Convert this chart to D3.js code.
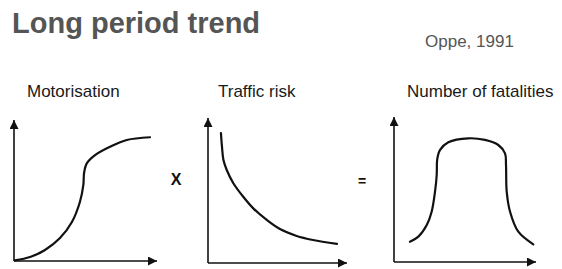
<!DOCTYPE html>
<html>
<head>
<meta charset="utf-8">
<script src="https://cdn.jsdelivr.net/npm/d3@7"></script>
<style>
  body { margin: 0; background: #fff; }
  text { font-family: "Liberation Sans", Arial, sans-serif; }
</style>
</head>
<body>
<div id="chart"></div>
<script>
// Long period trend (Oppe, 1991): motorisation x traffic risk = fatalities
// values are on a 0..10 scale

const panelTitles = ["Motorisation", "Traffic risk", "Number of fatalities"];

const motorisation = [
  [0.07, 0.04], [1.18, 0.29], [2.28, 0.81], [3.38, 1.69], [4.26, 2.87],
  [4.85, 4.36], [5.1, 5.59], [5.15, 6.45], [5.35, 7.18], [5.96, 7.79],
  [7.06, 8.4], [8.29, 8.9], [10, 9.1]
];

const trafficRisk = [
  [0.98, 9.42], [1.06, 8.41], [1.17, 7.46], [1.42, 6.74], [1.92, 5.78],
  [2.67, 4.8], [3.43, 3.96], [4.45, 3.12], [5.45, 2.46], [6.72, 1.96],
  [7.95, 1.67], [9.77, 1.38]
];

const fatalities = [
  [1.14, 1.48], [1.74, 1.85], [2.34, 2.7], [2.69, 3.67], [2.93, 5.13],
  [3.05, 6.35], [3.07, 7.3], [3.12, 7.69], [3.29, 8.18], [3.88, 8.74],
  [5.31, 9.03], [6.5, 8.91], [7.45, 8.54], [7.93, 7.93], [8.0, 7.08],
  [8.05, 5.13], [8.29, 3.67], [8.88, 2.21], [9.95, 1.29]
];

const width = 562, height = 269;

const svg = d3.select("#chart").append("svg")
  .attr("width", width)
  .attr("height", height);

// arrow head for the axes
svg.append("defs").append("marker")
  .attr("id", "arrow")
  .attr("viewBox", "0 0 10 10")
  .attr("refX", 10).attr("refY", 5)
  .attr("markerUnits", "userSpaceOnUse")
  .attr("markerWidth", 10).attr("markerHeight", 9)
  .attr("orient", "auto")
  .append("path")
  .attr("d", "M0,0 L10,5 L0,10 z")
  .attr("fill", "#111");

svg.append("text")
  .attr("x", 12).attr("y", 33)
  .attr("font-size", 29).attr("font-weight", "bold")
  .attr("fill", "#555")
  .text("Long period trend");

svg.append("text")
  .attr("x", 425).attr("y", 47)
  .attr("font-size", 17)
  .attr("fill", "#555")
  .text("Oppe, 1991");

// layout of the three small sketches
const panels = [
  { data: motorisation, x0: 14, x1: 150, y0: 261, y1: 125, xTip: 157, yTip: 120, titleX: 27 },
  { data: trafficRisk, x0: 208, x1: 340, y0: 263, y1: 125, xTip: 347, yTip: 118, titleX: 218 },
  { data: fatalities, x0: 394, x1: 534, y0: 262, y1: 125, xTip: 536, yTip: 117, titleX: 407 }
];

panels.forEach((p, i) => {
  const x = d3.scaleLinear().domain([0, 10]).range([p.x0, p.x1]);
  const y = d3.scaleLinear().domain([0, 10]).range([p.y0, p.y1]);
  const g = svg.append("g");

  g.append("text")
    .attr("x", p.titleX).attr("y", 97)
    .attr("font-size", 17)
    .attr("fill", "#1a1a1a")
    .text(panelTitles[i]);

  // axes: plain lines with arrow heads
  g.append("line")
    .attr("x1", x(0)).attr("y1", y(0))
    .attr("x2", x(0)).attr("y2", p.yTip)
    .attr("stroke", "#111").attr("stroke-width", 1.6)
    .attr("marker-end", "url(#arrow)");
  g.append("line")
    .attr("x1", x(0)).attr("y1", y(0))
    .attr("x2", p.xTip).attr("y2", y(0))
    .attr("stroke", "#111").attr("stroke-width", 1.6)
    .attr("marker-end", "url(#arrow)");

  const line = d3.line()
    .x(d => x(d[0]))
    .y(d => y(d[1]))
    .curve(d3.curveCatmullRom.alpha(0.5));

  g.append("path")
    .datum(p.data)
    .attr("d", line)
    .attr("fill", "none")
    .attr("stroke", "#111")
    .attr("stroke-width", 2.2)
    .attr("stroke-linecap", "round");
});

svg.append("text")
  .attr("x", 176).attr("y", 185)
  .attr("text-anchor", "middle")
  .attr("font-size", 16).attr("font-weight", "bold")
  .attr("fill", "#111")
  .text("X");

svg.append("text")
  .attr("x", 362).attr("y", 186)
  .attr("text-anchor", "middle")
  .attr("font-size", 14).attr("font-weight", "bold")
  .attr("fill", "#111")
  .text("=");
</script>
</body>
</html>
